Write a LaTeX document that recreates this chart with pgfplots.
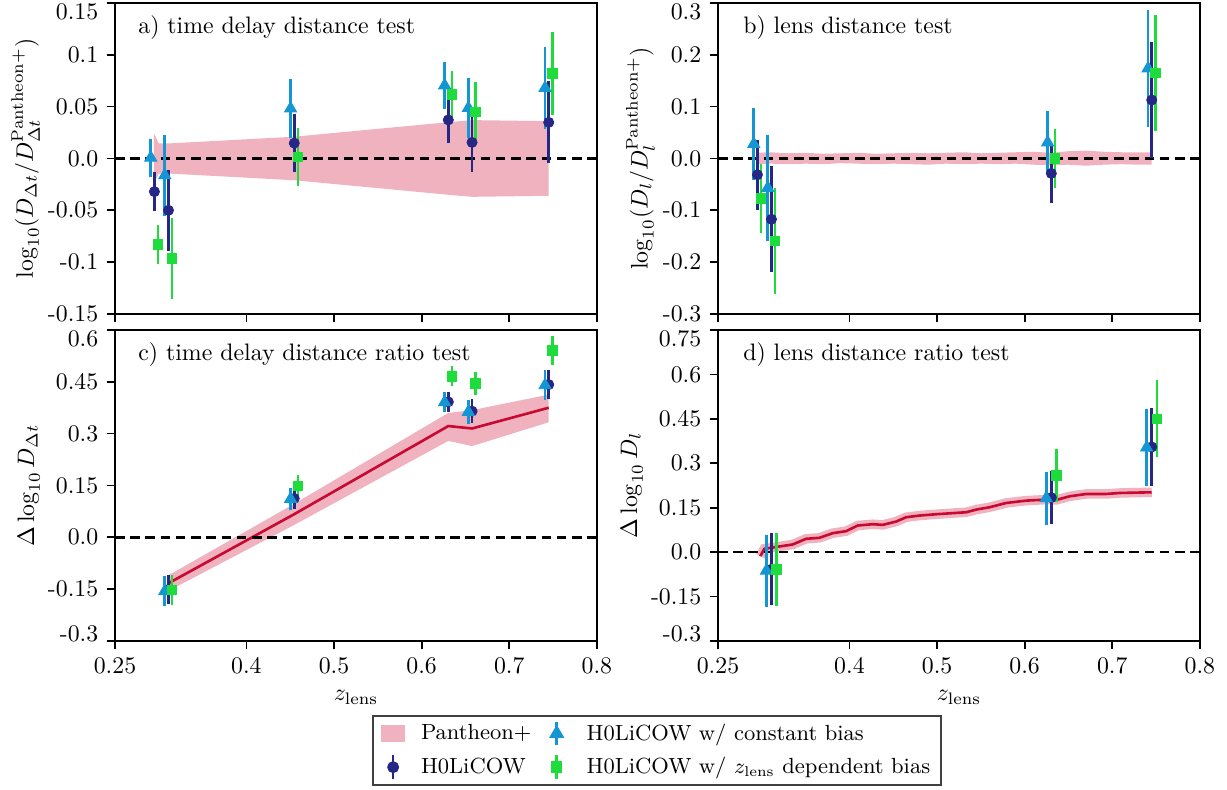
\documentclass[border=0pt]{standalone}
\usepackage{pgfplots}
\pgfplotsset{compat=1.18}
\definecolor{pantheon}{RGB}{239,178,190}
\definecolor{hzero}{RGB}{38,38,135}
\definecolor{hconst}{RGB}{20,150,210}
\definecolor{hzdep}{RGB}{30,220,60}
\definecolor{pline}{RGB}{200,10,50}
\newcommand\legf{\fontsize{9.2}{11}\selectfont}
% top tick label sits a little lower, bottom one a little higher (as in the original)
\newcommand\toplab[1]{\raisebox{-7pt}[0pt][0pt]{#1}}
\newcommand\botlab[1]{\raisebox{-0.3pt}[0pt][0pt]{#1}}

\pgfplotsset{
  panel/.style={
    scale only axis, width=202.4pt, height=130.6pt,
    anchor=north west,
    xmin=0.25, xmax=0.8,
    xtick={0.25,0.4,0.5,0.6,0.7,0.8},
    xticklabels={0.25,0.4,0.5,0.6,0.7,0.8},
    tick align=outside, tick pos=left,
    major tick length=3.5pt,
    every tick/.style={black, line width=0.7pt},
    axis line style={line width=0.7pt},
    ylabel style={yshift=-3.5pt},
  },
  zero/.style={black, line width=1pt, dash pattern=on 4pt off 2.4pt, forget plot},
  ebar/.style={only marks, forget plot,
    error bars/y dir=both, error bars/y explicit,
    error bars/error mark=none, error bars/error bar style={line width=1.1pt}},
  hz/.style={ebar, mark=*, mark size=2.1pt, color=hzero},
  hc/.style={ebar, mark=triangle*, mark size=2.9pt, color=hconst},
  hd/.style={ebar, mark=square*, mark size=2pt, color=hzdep},
}

\begin{document}
\begin{tikzpicture}

% a) time delay distance test
\begin{axis}[panel, at={(115*0.42pt,-3*0.42pt)},
  ymin=-0.15, ymax=0.15,
  ytick={-0.15,-0.1,-0.05,0,0.05,0.1,0.15},
  yticklabels={-0.15,-0.1,-0.05,0.0,0.05,0.1,\toplab{0.15}},
  xticklabels={},
  ylabel={$\log_{10}(D_{\Delta t}/D_{\Delta t}^{\mathrm{Pantheon+}})$}]
\addplot[fill=pantheon, draw=none, forget plot] coordinates {
  (0.2945,0.024) (0.300,0.0145) (0.311,0.0145) (0.4546,0.021) (0.6304,0.035)
  (0.6575,0.037) (0.745,0.036)
  (0.745,-0.036) (0.6575,-0.037) (0.6304,-0.035) (0.4546,-0.021) (0.311,-0.0145)
  (0.300,-0.0145) (0.2945,-0.024)} -- cycle;
\addplot[zero] coordinates {(0.25,0) (0.8,0)};
\addplot[hz] coordinates {
  (0.295,-0.032) +- (0,0.0186)
  (0.311,-0.050) +- (0,0.0388)
  (0.4546,0.0148) +- (0,0.028)
  (0.6304,0.0372) +- (0,0.022)
  (0.6575,0.0155) +- (0,0.029)
  (0.745,0.0348) +- (0,0.0396)};
\addplot[hc] coordinates {
  (0.2908,0.0008) +- (0,0.0184)
  (0.3068,-0.0162) +- (0,0.039)
  (0.4504,0.0482) +- (0,0.028)
  (0.6262,0.0705) +- (0,0.0224)
  (0.6533,0.0487) +- (0,0.029)
  (0.7408,0.068) +- (0,0.040)};
\addplot[hd] coordinates {
  (0.2992,-0.083) +- (0,0.0186)
  (0.3152,-0.0966) +- (0,0.039)
  (0.4588,0.0014) +- (0,0.028)
  (0.6346,0.0615) +- (0,0.0225)
  (0.6617,0.0449) +- (0,0.029)
  (0.7492,0.082) +- (0,0.0397)};
\node[anchor=west] at (rel axis cs:0.031,0.922) {a) time delay distance test};
\end{axis}

% b) lens distance test
\begin{axis}[panel, at={(718*0.42pt,-3*0.42pt)},
  ymin=-0.3, ymax=0.3,
  ytick={-0.3,-0.2,-0.1,0,0.1,0.2,0.3},
  yticklabels={-0.3,-0.2,-0.1,0.0,0.1,0.2,\toplab{0.3}},
  xticklabels={},
  ylabel={$\log_{10}(D_{l}/D_{l}^{\mathrm{Pantheon+}})$}]
\addplot[fill=pantheon, draw=none, forget plot] coordinates {
  (0.295,0.011) (0.31,0.012) (0.33,0.010) (0.35,0.011) (0.37,0.009) (0.39,0.010)
  (0.41,0.011) (0.43,0.009) (0.45,0.010) (0.47,0.011) (0.49,0.010) (0.51,0.011)
  (0.53,0.012) (0.55,0.010) (0.57,0.011) (0.59,0.012) (0.61,0.013) (0.63,0.011)
  (0.65,0.014) (0.67,0.015) (0.69,0.013) (0.71,0.012) (0.73,0.012) (0.745,0.012)
  (0.745,-0.012) (0.73,-0.012) (0.71,-0.011) (0.69,-0.012) (0.67,-0.014) (0.65,-0.012)
  (0.63,-0.013) (0.61,-0.012) (0.59,-0.010) (0.57,-0.011) (0.55,-0.010) (0.53,-0.011)
  (0.51,-0.010) (0.49,-0.012) (0.47,-0.011) (0.45,-0.010) (0.43,-0.011) (0.41,-0.010)
  (0.39,-0.009) (0.37,-0.011) (0.35,-0.010) (0.33,-0.011) (0.31,-0.010) (0.295,-0.011)} -- cycle;
\addplot[zero] coordinates {(0.25,0) (0.8,0)};
\addplot[hz] coordinates {
  (0.295,-0.0314) +- (0,0.068)
  (0.311,-0.1173) +- (0,0.1026)
  (0.6304,-0.0288) +- (0,0.0564)
  (0.745,0.1128) +- (0,0.1128)};
\addplot[hc] coordinates {
  (0.2908,0.0279) +- (0,0.0696)
  (0.3068,-0.0567) +- (0,0.1016)
  (0.6262,0.031) +- (0,0.060)
  (0.7408,0.1737) +- (0,0.1128)};
\addplot[hd] coordinates {
  (0.2992,-0.077) +- (0,0.067)
  (0.3152,-0.1596) +- (0,0.102)
  (0.6346,0.0) +- (0,0.0577)
  (0.7492,0.1647) +- (0,0.112)};
\node[anchor=west] at (rel axis cs:0.035,0.922) {b) lens distance test};
\end{axis}

% c) time delay distance ratio test
\begin{axis}[panel, at={(115*0.42pt,-330*0.42pt)},
  ymin=-0.3, ymax=0.6,
  ytick={-0.3,-0.15,0,0.15,0.3,0.45,0.6},
  yticklabels={\botlab{-0.3},-0.15,0.0,0.15,0.3,0.45,\toplab{0.6}},
  xlabel={$z_{\mathrm{lens}}$},
  ylabel={$\Delta\log_{10}D_{\Delta t}$},
  legend columns=2, legend cell align=left,
  legend style={at={(1.1245,-0.237)}, anchor=north, draw=black!75, line width=0.8pt,
    font=\legf, inner xsep=3.4pt, inner ysep=2pt, row sep=3pt, column sep=0pt,
    nodes={inner sep=1pt}}]
\addlegendimage{legend image code/.code={
  \fill[pantheon] (0pt,-3pt) rectangle (9.2pt,3pt);
  \path[draw=none] (0pt,0pt) -- (15.3pt,0pt);}}
\addlegendentry{\makebox[51.4pt][l]{Pantheon+}}
\addlegendimage{legend image code/.code={
  \draw[hconst, line width=1.1pt] (4.6pt,-5pt) -- (4.6pt,5pt);
  \fill[hconst] (4.6pt,2.9pt) -- (2.05pt,-1.45pt) -- (7.15pt,-1.45pt) -- cycle;
  \path[draw=none] (0pt,0pt) -- (16.2pt,0pt);}}
\addlegendentry{H0LiCOW w/ constant bias}
\addlegendimage{legend image code/.code={
  \draw[hzero, line width=1.1pt] (4.6pt,-5pt) -- (4.6pt,5pt);
  \fill[hzero] (4.6pt,0pt) circle (2.1pt);
  \path[draw=none] (0pt,0pt) -- (15.3pt,0pt);}}
\addlegendentry{\makebox[51.4pt][l]{H0LiCOW}}
\addlegendimage{legend image code/.code={
  \draw[hzdep, line width=1.1pt] (4.6pt,-5pt) -- (4.6pt,5pt);
  \fill[hzdep] (2.6pt,-2pt) rectangle (6.6pt,2pt);
  \path[draw=none] (0pt,0pt) -- (16.2pt,0pt);}}
\addlegendentry{H0LiCOW w/ $z_{\mathrm{lens}}$ dependent bias}
\addplot[fill=pantheon, draw=none, forget plot] coordinates {
  (0.311,-0.110) (0.4546,0.097) (0.6304,0.360) (0.6575,0.368) (0.745,0.413)
  (0.745,0.333) (0.6575,0.264) (0.6304,0.279) (0.4546,0.036) (0.311,-0.155)} -- cycle;
\addplot[pline, line width=1.1pt, forget plot] coordinates {
  (0.311,-0.133) (0.4546,0.067) (0.6304,0.322) (0.6575,0.315) (0.745,0.375)};
\addplot[zero] coordinates {(0.25,0) (0.8,0)};
\addplot[hz] coordinates {
  (0.311,-0.151) +- (0,0.043)
  (0.4546,0.1125) +- (0,0.031)
  (0.6304,0.392) +- (0,0.029)
  (0.6575,0.365) +- (0,0.034)
  (0.745,0.442) +- (0,0.043)};
\addplot[hc] coordinates {
  (0.3068,-0.156) +- (0,0.043)
  (0.4504,0.111) +- (0,0.033)
  (0.6262,0.391) +- (0,0.029)
  (0.6533,0.363) +- (0,0.034)
  (0.7408,0.440) +- (0,0.043)};
\addplot[hd] coordinates {
  (0.3152,-0.152) +- (0,0.043)
  (0.4588,0.148) +- (0,0.033)
  (0.6346,0.466) +- (0,0.029)
  (0.6617,0.445) +- (0,0.034)
  (0.7492,0.541) +- (0,0.043)};
\node[anchor=west] at (rel axis cs:0.031,0.92) {c) time delay distance ratio test};
\end{axis}

% d) lens distance ratio test
\begin{axis}[panel, at={(718*0.42pt,-330*0.42pt)},
  ymin=-0.3, ymax=0.75,
  ytick={-0.3,-0.15,0,0.15,0.3,0.45,0.6,0.75},
  yticklabels={\botlab{-0.3},-0.15,0.0,0.15,0.3,0.45,0.6,\toplab{0.75}},
  xlabel={$z_{\mathrm{lens}}$},
  ylabel={$\Delta\log_{10}D_{l}$}]
\addplot[pantheon, line width=4pt, forget plot] coordinates {
  (0.2983,-0.0135) (0.3029,0.0112) (0.3105,0.0146) (0.3352,0.0258) (0.3505,0.0449)
  (0.3657,0.0482) (0.381,0.064) (0.3962,0.0707) (0.4095,0.0898) (0.4267,0.0942)
  (0.4381,0.092) (0.4533,0.1032) (0.4648,0.1178) (0.48,0.1234) (0.499,0.1279)
  (0.5333,0.1346) (0.5448,0.1436) (0.56,0.1515) (0.579,0.166) (0.6019,0.1739)
  (0.6248,0.1773) (0.6362,0.1762) (0.6514,0.1885) (0.6705,0.1964) (0.6933,0.1964)
  (0.7086,0.1997) (0.745,0.202)};
\addplot[pline, line width=1.1pt, forget plot] coordinates {
  (0.2983,-0.0135) (0.3029,0.0112) (0.3105,0.0146) (0.3352,0.0258) (0.3505,0.0449)
  (0.3657,0.0482) (0.381,0.064) (0.3962,0.0707) (0.4095,0.0898) (0.4267,0.0942)
  (0.4381,0.092) (0.4533,0.1032) (0.4648,0.1178) (0.48,0.1234) (0.499,0.1279)
  (0.5333,0.1346) (0.5448,0.1436) (0.56,0.1515) (0.579,0.166) (0.6019,0.1739)
  (0.6248,0.1773) (0.6362,0.1762) (0.6514,0.1885) (0.6705,0.1964) (0.6933,0.1964)
  (0.7086,0.1997) (0.745,0.202)};
\addplot[zero] coordinates {(0.25,0) (0.8,0)};
\addplot[hz] coordinates {
  (0.311,-0.058) +- (0,0.122)
  (0.6304,0.184) +- (0,0.089)
  (0.745,0.355) +- (0,0.131)};
\addplot[hc] coordinates {
  (0.3052,-0.063) +- (0,0.122)
  (0.6246,0.182) +- (0,0.089)
  (0.7392,0.353) +- (0,0.131)};
\addplot[hd] coordinates {
  (0.3168,-0.059) +- (0,0.123)
  (0.6362,0.258) +- (0,0.090)
  (0.7508,0.450) +- (0,0.130)};
\node[anchor=west] at (rel axis cs:0.035,0.922) {d) lens distance ratio test};
\end{axis}

\pgfresetboundingbox
\useasboundingbox (0,0) rectangle (1227*0.42pt,-789*0.42pt);
\end{tikzpicture}
\end{document}
